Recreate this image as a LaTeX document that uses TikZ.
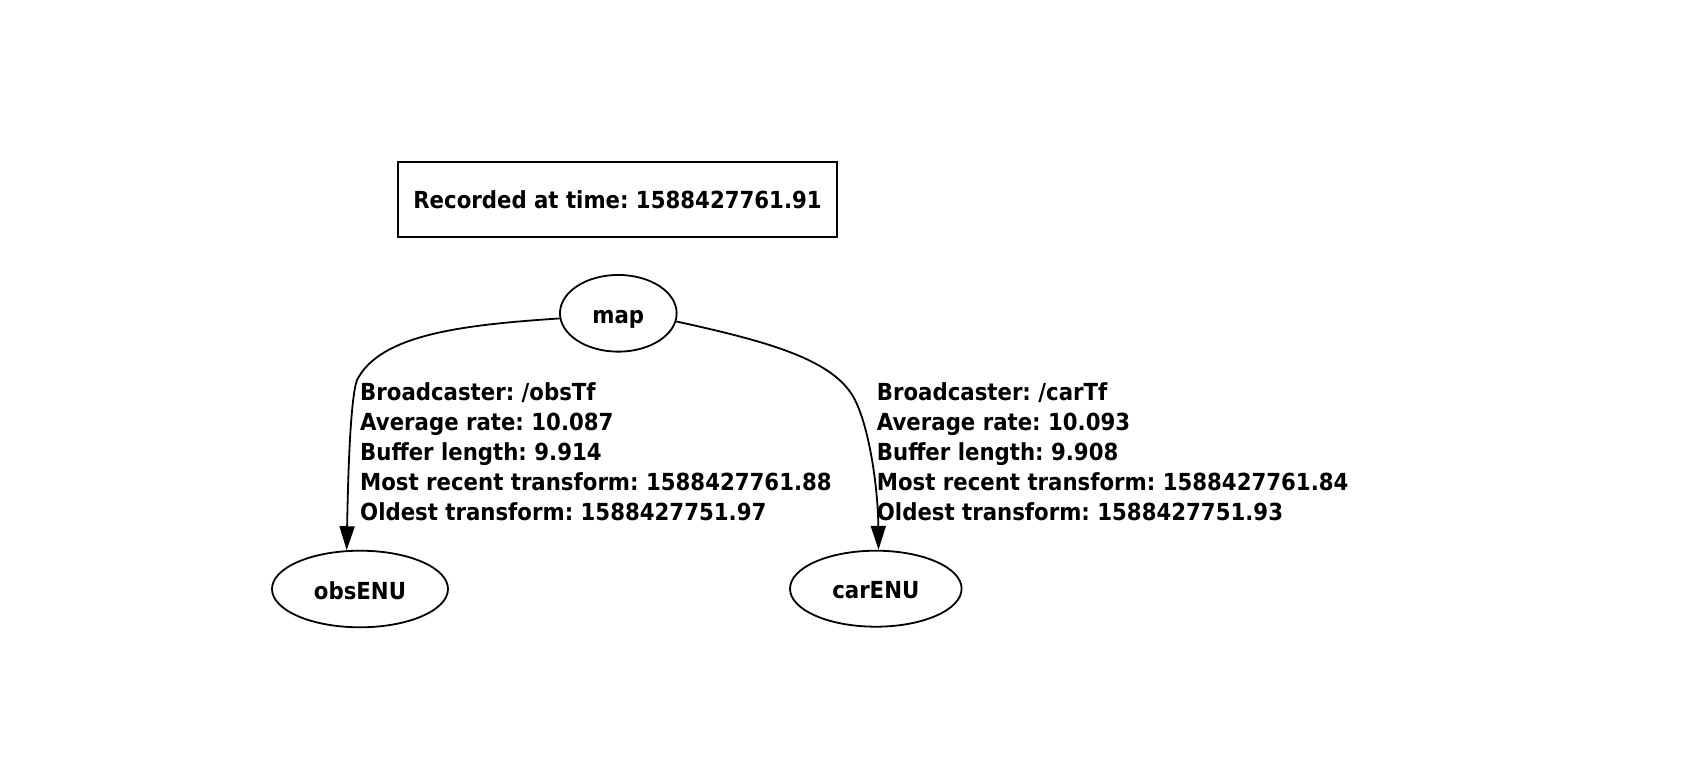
\documentclass[tikz,border=0pt]{standalone}
\usepackage{fontspec}
\setmainfont{DejaVu Sans}[FakeStretch=0.905]
\usetikzlibrary{arrows.meta,shapes.geometric}
\begin{document}
\frenchspacing
\begin{tikzpicture}[x=1pt,y=-1pt,
  lbl/.style={font=\fontsize{23.5}{30.2}\selectfont\bfseries\frenchspacing},
  framebox/.style={draw,line width=1.8pt,rectangle,inner sep=0pt,lbl,text height=19pt,text depth=0pt},
  tfnode/.style={draw,line width=1.8pt,ellipse,inner sep=0pt,lbl,text height=20pt,text depth=0pt},
  edge/.style={line width=1.8pt,-{Triangle[length=24pt,width=15pt]}},
  edgelbl/.style={lbl,align=left,inner sep=0pt,anchor=base west}]
\useasboundingbox[fill=white] (0,0) rectangle (1695,770);
\node[framebox,minimum width=438.4pt,minimum height=75.6pt] (rec) at (617.5,199.5) {Recorded at time: 1588427761.91};
\node[tfnode,minimum width=116.7pt,minimum height=76.7pt] (map) at (618.3,313.3) {map};
\node[tfnode,minimum width=176pt,minimum height=76.6pt] (obs) at (360,589) {obsENU};
\node[tfnode,minimum width=171.6pt,minimum height=76pt] (car) at (875.8,588.7) {carENU};
\coordinate (lmid) at (357,380);
\coordinate (rmid) at (855,400);
\draw[edge] (map.185) .. controls (460,325) and (380,335) .. (lmid)
  .. controls (350,400) and (348,480) .. (obs.109);
\draw[edge] (map.352) .. controls (770,342) and (835,360) .. (rmid)
  .. controls (870,430) and (878,490) .. (car.86);
\node[edgelbl] (lobs) at (360,520.8) {Broadcaster: /obsTf\\Average rate: 10.087\\Buffer length: 9.914\\Most recent transform: 1588427761.88\\Oldest transform: 1588427751.97};
\node[edgelbl] (lcar) at (876.7,520.8) {Broadcaster: /carTf\\Average rate: 10.093\\Buffer length: 9.908\\Most recent transform: 1588427761.84\\Oldest transform: 1588427751.93};
\end{tikzpicture}
\end{document}
